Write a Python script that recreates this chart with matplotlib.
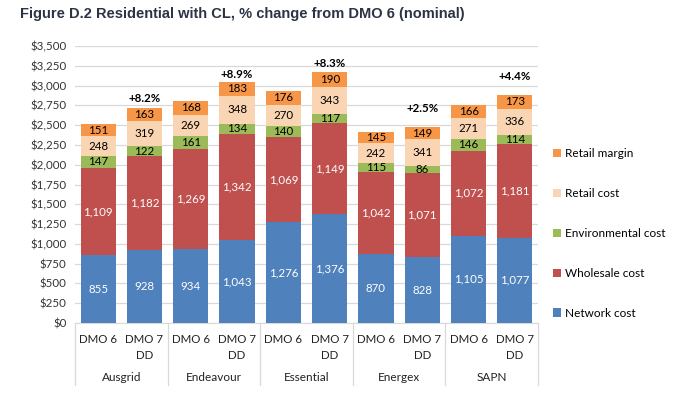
import numpy as np
import matplotlib.pyplot as plt

# cost components, $ per year (nominal)
groups = ['Ausgrid', 'Endeavour', 'Essential', 'Energex', 'SAPN']
bar_labels = ['DMO 6', 'DMO 7\nDD'] * 5

network = [855, 928, 934, 1043, 1276, 1376, 870, 828, 1105, 1077]
wholesale = [1109, 1182, 1269, 1342, 1069, 1149, 1042, 1071, 1072, 1181]
environmental = [147, 122, 161, 134, 140, 117, 115, 86, 146, 114]
retail_cost = [248, 319, 269, 348, 270, 343, 242, 341, 271, 336]
retail_margin = [151, 163, 168, 183, 176, 190, 145, 149, 166, 173]

pct_change = ['+8.2%', '+8.9%', '+8.3%', '+2.5%', '+4.4%']

series = [
    ('Network cost', network, '#4F81BD', 'white'),
    ('Wholesale cost', wholesale, '#C0504D', 'white'),
    ('Environmental cost', environmental, '#9BBB59', 'black'),
    ('Retail cost', retail_cost, '#FAD5B3', 'black'),
    ('Retail margin', retail_margin, '#F79646', 'black'),
]

plt.rcParams['font.family'] = ['Lato', 'DejaVu Sans']

fig = plt.figure(figsize=(6.73, 3.97), dpi=100)
ax = fig.add_axes([75/673, 1-323/397, 463/673, 277/397])

x = np.arange(len(network))
bottom = np.zeros(len(x))
handles = []
for name, vals, col, tcol in series:
    vals = np.array(vals)
    b = ax.bar(x, vals, width=0.76, bottom=bottom, color=col, zorder=3, label=name)
    handles.append(b)
    for xi, v, bt in zip(x, vals, bottom):
        ax.text(xi, bt + v/2, f'{v:,}', ha='center', va='center',
                fontsize=8.3, color=tcol, zorder=4)
    bottom += vals

# % change labels over the DMO 7 bars (pixels above the bar, as in source)
lift = [10, 7, 8, 19, 18]
for i, lab in enumerate(pct_change):
    xi = 2*i + 1
    ax.annotate(lab, (xi, bottom[xi]), xytext=(0, lift[i]), textcoords='offset pixels',
                ha='center', va='center', fontsize=8.3, fontweight='bold', color='black')

ax.set_ylim(0, 3500)
ax.set_xlim(-0.5, len(x) - 0.5)
ticks = np.arange(0, 3501, 250)
ax.set_yticks(ticks)
ax.set_yticklabels([f'${t:,}' for t in ticks], fontsize=8.3, color='#333333')
ax.yaxis.grid(True, color='#D9D9D9', linewidth=0.9, zorder=0)
ax.tick_params(axis='y', length=0, pad=6)
ax.tick_params(axis='x', length=0, pad=8)
ax.set_xticks(x)
ax.set_xticklabels(bar_labels, fontsize=8.3, color='#222222', linespacing=1.5)
for s in ['top', 'right', 'left']:
    ax.spines[s].set_visible(False)
ax.spines['bottom'].set_color('#D9D9D9')

# group separators and names under the axis
for k in range(len(groups) + 1):
    xs = -0.5 + 2*k
    ax.plot([xs, xs], [0, -0.225], transform=ax.get_xaxis_transform(),
            color='#D9D9D9', linewidth=0.9, clip_on=False)
for k, g in enumerate(groups):
    ax.text(2*k + 0.5, -0.195, g, transform=ax.get_xaxis_transform(),
            ha='center', va='center', fontsize=8.5, color='#222222')

leg = fig.legend(handles[::-1], [s[0] for s in series][::-1],
                 loc='upper left', bbox_to_anchor=(553/673, 1-148/397),
                 borderaxespad=0, borderpad=0,
                 frameon=False, fontsize=8.5, handlelength=0.7, handleheight=0.7,
                 handletextpad=0.35, labelspacing=2.45)

fig.text(20/673, 1-14/397, 'Figure D.2 Residential with CL, % change from DMO 6 (nominal)',
         fontsize=10.5, fontweight='bold', color='#2B3444', va='center', ha='left',
         family='Liberation Sans')

fig.savefig('out.png', dpi=100)
